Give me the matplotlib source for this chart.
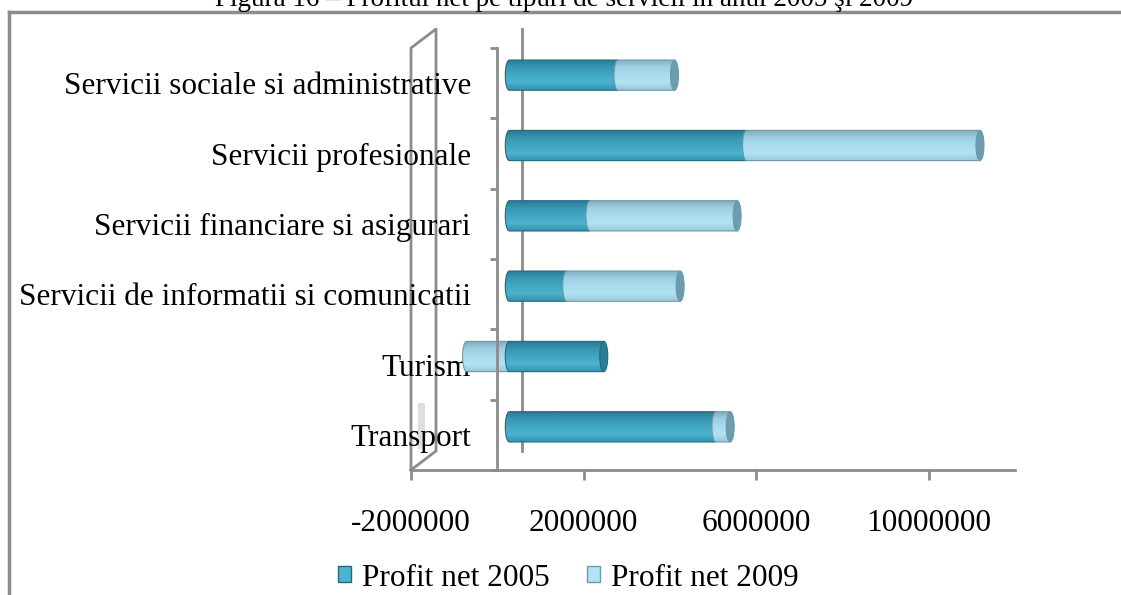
import numpy as np
import matplotlib
matplotlib.use("Agg")
import matplotlib.pyplot as plt
import matplotlib.transforms as mtransforms
from matplotlib.patches import Ellipse, Polygon, Rectangle
from matplotlib.lines import Line2D
from matplotlib.colors import to_rgb

# date: profit net (lei) pe tipuri de servicii
categorii = ["Transport", "Turism", "Servicii de informatii si comunicatii",
             "Servicii financiare si asigurari", "Servicii profesionale",
             "Servicii sociale si administrative"]
profit_2005 = [4790000, 2190000, 1330000, 1870000, 5500000, 2520000]
profit_2009 = [330000, -990000, 2630000, 3410000, 5410000, 1310000]
serii = ["Profit net 2005", "Profit net 2009"]
x_ticks = [-2000000, 2000000, 6000000, 10000000]

plt.rcParams['font.family'] = ['Liberation Serif', 'DejaVu Serif']
FS = 22.5

W, H, DPI = 1121, 595, 100
fig = plt.figure(figsize=(W / DPI, H / DPI), dpi=DPI)
# front plane of the pseudo-3D plot area (pixels)
left_px, right_px, top_px, bot_px = 411, 1015, 48, 470
ax = fig.add_axes([left_px / W, 1 - bot_px / H,
                   (right_px - left_px) / W, (bot_px - top_px) / H])
ax.set_facecolor("none")

GRAY = "#8c8c8c"
depth_x, depth_y = 0.58e6, 0.27          # back wall offset (data units)

# axes styling: floor = bottom spine, front value axis at x = 0
for s in ["top", "right"]:
    ax.spines[s].set_visible(False)
ax.spines["bottom"].set_color(GRAY)
ax.spines["bottom"].set_linewidth(2)
ax.spines["left"].set_position(("data", 0))
ax.spines["left"].set_color(GRAY)
ax.spines["left"].set_linewidth(2)
ax.spines["left"].set_zorder(6)
ax.set_xticks(x_ticks)
ax.set_xticklabels([str(v) for v in x_ticks])
ax.tick_params(axis="x", direction="out", length=7, width=2, color=GRAY,
               labelsize=FS, pad=21)
ax.set_yticks(range(len(categorii)))
ax.set_yticklabels(categorii)
ax.set_yticks(np.arange(-0.5, len(categorii), 1), minor=True)
ax.tick_params(axis="y", which="major", length=0, labelsize=FS, pad=19)
ax.tick_params(axis="y", which="minor", direction="out", length=5, width=2,
               color=GRAY)

# left side wall and back zero line
x0 = -2000000
y0, y1 = -0.5, len(categorii) - 0.5
ax.plot([x0, x0, x0 + depth_x, x0 + depth_x, x0],
        [y0, y1, y1 + depth_y, y0 + depth_y, y0],
        color=GRAY, lw=2, clip_on=False, zorder=1)
ax.plot([depth_x, depth_x], [y0 + depth_y, y1 + depth_y],
        color=GRAY, lw=2, clip_on=False, zorder=1)
# faint shading on the side wall
ax.fill_between([x0 + 0.17e6, x0 + 0.33e6], [-0.2, -0.2], [0.45, 0.45],
                color="#c8c8c8", alpha=0.6, lw=0, clip_on=False, zorder=1)

# bars sit half way in depth
bar_tr = ax.transData + mtransforms.ScaledTranslation(12 / DPI, 8 / DPI,
                                                      fig.dpi_scale_trans)
bar_h = 0.43
cap_w = 0.185e6

styles = {
    0: dict(grad=["#3393ad", "#4cb3ce", "#42a6c1", "#3797b1", "#287893"],
            edge="#21697f", cap="#2a7d95"),
    1: dict(grad=["#97c9db", "#b2e3f5", "#a9dcee", "#9dcfe2", "#80abbc"],
            edge="#6f98a8", cap="#6b9caf"),
}


def gradient_image(colors, n=60):
    stops = np.linspace(0, 1, len(colors))
    t = np.linspace(0, 1, n)
    rgb = np.array([to_rgb(c) for c in colors])
    img = np.stack([np.interp(t, stops, rgb[:, k]) for k in range(3)], axis=1)
    return img[:, None, :]


def cylinder(y, left, width, st, z, cap=False):
    right = left + width
    th = np.linspace(np.pi / 2, 3 * np.pi / 2, 30)
    arc = np.column_stack([left + cap_w / 2 * np.cos(th),
                           y + bar_h / 2 * np.sin(th)])
    pts = np.vstack([[[right, y + bar_h / 2]], arc, [[right, y - bar_h / 2]]])
    ax.add_patch(Polygon(pts, closed=True, facecolor="none",
                         edgecolor=st["edge"], lw=0.8, transform=bar_tr,
                         zorder=z + 0.2))
    im = ax.imshow(gradient_image(st["grad"]),
                   extent=[left - cap_w / 2, right, y + bar_h / 2, y - bar_h / 2],
                   aspect="auto", interpolation="bilinear",
                   transform=bar_tr, zorder=z)
    im.set_clip_path(Polygon(pts, closed=True, transform=bar_tr))
    if cap:
        ax.add_patch(Ellipse((right, y), cap_w, bar_h, facecolor=st["cap"],
                             edgecolor=st["edge"], lw=0.8, transform=bar_tr,
                             zorder=z + 0.3))


for i in range(len(categorii)):
    v5, v9 = profit_2005[i], profit_2009[i]
    if v9 < 0:
        segs = [(v9, -v9, 1), (0, v5, 0)]
    else:
        segs = [(0, v5, 0), (v5, v9, 1)]
    for k, (l, w, s) in enumerate(segs):
        cylinder(i, l, w, styles[s], z=3 + k, cap=(k == len(segs) - 1))

ax.set_xlim(-2000000, 12000000)
ax.set_ylim(-0.5, len(categorii) - 0.5)

# legend
handles = [Rectangle((0, 0), 1, 1, facecolor=styles[0]["grad"][1],
                     edgecolor=styles[0]["edge"]),
           Rectangle((0, 0), 1, 1, facecolor=styles[1]["grad"][1],
                     edgecolor=styles[1]["edge"])]
fig.legend(handles, serii, loc="center", bbox_to_anchor=(568 / W, 1 - 578 / H),
           ncol=2, frameon=False, fontsize=FS, handlelength=0.42,
           handleheight=0.42, handletextpad=0.35, columnspacing=1.2)

# outer frame (cut at right / bottom) and clipped title
fig.add_artist(Line2D([9 / W, 9 / W], [0, 1 - 12 / H], color=GRAY, lw=2.5))
fig.add_artist(Line2D([9 / W, 1], [1 - 12 / H, 1 - 12 / H], color=GRAY, lw=2.5))
fig.text(564 / W, 1 - 6 / H,
         "Figura 16 \u2013 Profitul net pe tipuri de servicii \u00een anul 2005 \u015fi 2009",
         ha="center", va="baseline", fontsize=19.5)

fig.savefig("out.png", dpi=DPI)
